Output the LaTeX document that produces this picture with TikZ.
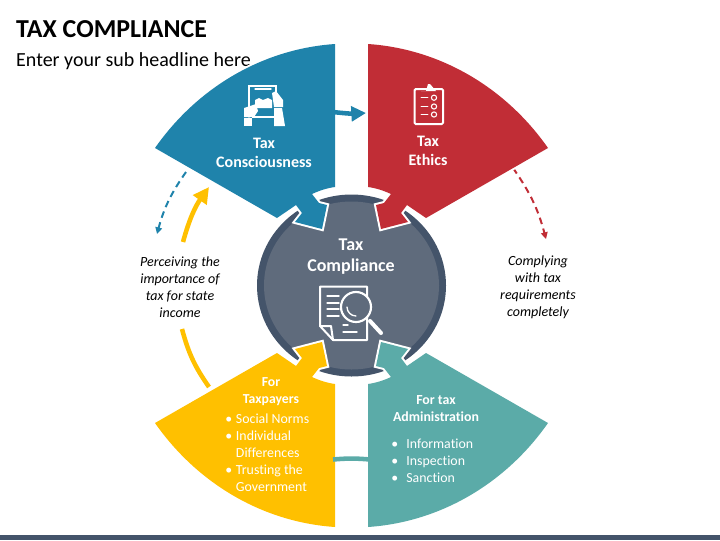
\documentclass[tikz,border=0pt]{standalone}
\usepackage{fontspec}
\setmainfont[Ligatures=NoCommon]{Carlito}
\usetikzlibrary{arrows.meta}

\definecolor{taxblue}{HTML}{1F83AB}
\definecolor{taxred}{HTML}{C12D36}
\definecolor{taxyellow}{HTML}{FFC000}
\definecolor{taxteal}{HTML}{5BABA8}
\definecolor{taxring}{HTML}{44546A}
\definecolor{taxcore}{HTML}{5F6B7C}

\tikzset{
    headline/.style={font=\fontsize{19.4}{20}\selectfont\bfseries, anchor=west},
    subline/.style={font=\fontsize{15}{16}\selectfont, anchor=west},
    petaltitle/.style={white, align=center, font=\fontsize{12}{14.6}\selectfont\bfseries},
    petallist/.style={white, align=left, anchor=west, font=\fontsize{10.4}{12.8}\selectfont},
    sidenote/.style={align=center, font=\fontsize{10.5}{12.8}\selectfont\itshape},
    solidarc/.style={line width=3.4pt},
    dasharc/.style={line width=1.5pt, dash pattern=on 5pt off 3.5pt},
    iconline/.style={white, line width=1pt}
}

% one quarter of the wheel, written for the upper left
\newcommand{\petal}[1]{
    \fill[#1, preaction={draw=white, line width=3pt}]
        (-16.5,-241.5) -- (-16.5,-98.5)
        .. controls (-24,-97.5) and (-32,-95) .. (-39.5,-91.5)
        -- (-32.5,-82.5) -- (-24.5,-80.5) -- (-29.5,-56.5) -- (-56.5,-63.5)
        -- (-49.5,-72.5) -- (-55.5,-80.5)
        .. controls (-62,-76) and (-68,-72) .. (-74.5,-67.5)
        -- (-196.5,-137.5)
        .. controls (-154.5,-197.5) and (-89.5,-236.5) .. (-16.5,-241.5) -- cycle;
}

\begin{document}
\begin{tikzpicture}[x=0.75pt, y=-0.75pt, line cap=round]

    \useasboundingbox (0,0) rectangle (720,540);
    \fill[taxring] (0,535) rectangle (720,540);

    \node[headline] (title) at (11.5,29) {TAX COMPLIANCE};
    \node[subline] (subtitle) at (11.5,61.5) {Enter your sub headline here};

    % centre
    \coordinate (hub) at (351.5,285.5);
    \fill[taxring] (hub) ellipse (94.5 and 91);
    \fill[taxcore] (hub) ellipse (87.5 and 84);

    % connecting arcs
    \coordinate (blueA) at (333,112);
    \coordinate (blueB) at (366,113);
    \coordinate (yelA) at (183,242);
    \coordinate (yelB) at (209,187);
    \coordinate (yelC) at (182,329);
    \coordinate (yelD) at (209,387);
    \coordinate (tealA) at (333,459.5);
    \coordinate (tealB) at (370,459.5);
    \coordinate (dashA) at (186,172);
    \coordinate (dashB) at (157,234);
    \coordinate (dashC) at (513,168);
    \coordinate (dashD) at (546,239);
    \draw[solidarc, taxyellow, -{Triangle[length=12pt, width=12pt]}, line cap=butt] (yelA) to[bend left=10] (yelB);
    \draw[solidarc, taxyellow, line cap=butt] (yelC) to[bend right=10] (yelD);
    \draw[dasharc, taxblue, line cap=butt, -{Triangle[length=5pt, width=5pt]}] (dashA) to[bend right=10] (dashB);
    \draw[dasharc, taxred, line cap=butt, -{Triangle[length=5pt, width=5pt]}] (dashC) to[bend left=10] (dashD);

    % four petals
    \begin{scope}[shift={(351.5,285.5)}]
        \petal{taxblue}
    \end{scope}
    \begin{scope}[shift={(351.5,285.5)}, xscale=-1]
        \petal{taxred}
    \end{scope}
    \begin{scope}[shift={(351.5,285.5)}, yscale=-1]
        \petal{taxyellow}
    \end{scope}
    \begin{scope}[shift={(351.5,285.5)}, xscale=-1, yscale=-1]
        \petal{taxteal}
    \end{scope}

    % these two touch the petals on both sides
    \draw[solidarc, taxblue, -{Triangle[length=11pt, width=11pt]}, line cap=butt] (blueA) to[bend right=5] (blueB);
    \draw[solidarc, taxteal, line cap=butt] (tealA) to[bend left=5] (tealB);

    % hands on a sheet
    \draw[iconline] (249,117) -- (249,86) -- (276,86) -- (276,95);
    \draw[iconline] (255,89) -- (271,89);
    \fill[white] (255,100) -- (259,98) -- (263,100) -- (268,98) -- (272,100) -- (272,108) -- (255,108) -- cycle;
    \fill[white] (252,116) rectangle (274,118);
    \fill[white] (244,108) -- (256,104) -- (258,111) -- (254,117) -- (244,117) -- cycle;
    \fill[white] (244,118) -- (252,118) -- (252,126) -- (244,126) -- cycle;
    \fill[white] (272,93) -- (276,91) -- (283,100) -- (283,107) -- (274,107) -- cycle;
    \fill[white] (274,108) -- (282,108) -- (285,126) -- (274,126) -- cycle;

    % checklist
    \draw[white, line width=1.5pt, rounded corners=1pt] (414.5,89) rectangle (443,124);
    \fill[white] (421,91) -- (426,91) -- (428,84) -- (430,84) -- (436,91) -- cycle;
    \foreach \rowy in {97.7,106.5,114.5}{
        \draw[iconline, line width=.7pt] (421,\rowy) -- (428,\rowy);
        \draw[iconline, line width=.8pt] (434,\rowy) circle (2.6);
    }

    % sheet under a lens
    \draw[white, line width=1.5pt, line join=round] (320,286.5) -- (367,286.5) -- (367,340) -- (333,340) -- (320,326) -- cycle;
    \draw[white, line width=1.5pt, line join=round] (320,326) -- (331,326) -- (333,340);
    \foreach \rowy in {296,303,309,316}{
        \draw[iconline] (327,\rowy) -- (339,\rowy);
    }
    \draw[iconline] (343,325) -- (348,325);
    \draw[iconline] (343,332) -- (357,332);
    \draw[white, line width=1.6pt, fill=taxcore] (356,307) circle (15);
    \draw[iconline] (347,307) arc (180:90:9);
    \draw[white, line width=3pt] (370,321) -- (381,333);

    % labels
    \node[petaltitle] (consciousness) at (264,153) {Tax\\Consciousness};
    \node[petaltitle] (ethics) at (428,151) {Tax\\Ethics};
    \node[petaltitle, font=\fontsize{13.5}{15.8}\selectfont\bfseries] (compliance) at (351,256.5) {Tax\\Compliance};
    \node[petaltitle, font=\fontsize{10.3}{12.8}\selectfont\bfseries] (taxpayers) at (271,391.5) {For\\Taxpayers};
    \node[petaltitle, font=\fontsize{10.4}{12.8}\selectfont\bfseries] (administration) at (436,408.5) {For tax\\Administration};
    \node[petallist] (norms) at (220.6,453) {\makebox[8pt][l]{\textbullet}Social Norms\\
        \makebox[8pt][l]{\textbullet}Individual\\
        \makebox[8pt]{}Differences\\
        \makebox[8pt][l]{\textbullet}Trusting the\\
        \makebox[8pt]{}Government};
    \node[petallist] (duties) at (386.6,461) {\makebox[11.3pt][l]{\textbullet}Information\\
        \makebox[11.3pt][l]{\textbullet}Inspection\\
        \makebox[11.3pt][l]{\textbullet}Sanction};
    \node[sidenote] (perceiving) at (180,287) {Perceiving the\\importance of\\tax for state\\income};
    \node[sidenote] (complying) at (538,287.5) {Complying\\with tax\\requirements\\completely};

\end{tikzpicture}
\end{document}
